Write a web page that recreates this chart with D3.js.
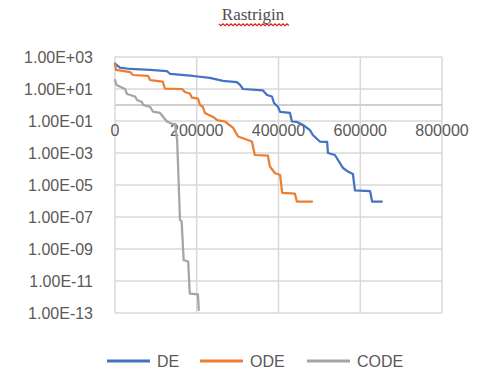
<!DOCTYPE html>
<html>
<head>
<meta charset="utf-8">
<script src="https://cdn.jsdelivr.net/npm/d3@7"></script>
<style>
  html, body { margin: 0; padding: 0; background: #ffffff; }
  svg { display: block; }
</style>
</head>
<body>
<svg id="chart" width="484" height="369"></svg>
<script>
// Rastrigin: best error vs. function evaluations for three DE variants
const title = "Rastrigin";
const seriesNames = ["DE", "ODE", "CODE"];
const seriesColors = ["#4472C4", "#ED7D31", "#A5A5A5"];

const deEvals = [0, 12000, 37000, 86000, 127000, 135000, 191000, 232000, 264000, 298000, 306000, 313000, 362000, 372000, 384000, 389000, 399000, 404000, 428000, 433000, 445000, 460000, 477000, 484000, 501000, 519000, 521000, 538000, 558000, 570000, 582000, 587000, 624000, 629000, 653000];
const deError = [390, 220, 178, 155, 133, 87, 65, 49, 32, 27, 18, 10, 8.1, 4.2, 3.4, 1.33, 0.75, 0.37, 0.32, 0.093, 0.087, 0.056, 0.027, 0.0133, 0.0052, 0.0049, 0.001, 0.00075, 0.000115, 6.9e-5, 4.9e-5, 4.6e-6, 4.2e-6, 9.3e-7, 9.3e-7];

const odeEvals = [0, 2500, 37000, 44000, 81000, 86000, 117000, 122000, 164000, 171000, 183000, 188000, 203000, 208000, 215000, 220000, 240000, 250000, 269000, 289000, 301000, 335000, 342000, 374000, 379000, 391000, 404000, 409000, 440000, 445000, 482000];
const odeError = [365, 155, 115, 75, 65, 36, 29, 10.7, 10, 6.5, 5.2, 2.9, 2.5, 1.0, 0.75, 0.32, 0.18, 0.115, 0.093, 0.037, 0.0108, 0.0052, 0.00075, 0.00069, 0.000144, 5.6e-5, 4.2e-5, 3.2e-6, 2.9e-6, 9.3e-7, 9.3e-7];

const codeEvals = [0, 3700, 24500, 29400, 49000, 54000, 66000, 68500, 86000, 93000, 110000, 117000, 127000, 135000, 139000, 147000, 152000, 159000, 163000, 168000, 179000, 183000, 203000, 205000];
const codeError = [36.5, 17.8, 10, 4.9, 3.4, 2.05, 1.54, 1.0, 0.75, 0.39, 0.32, 0.19, 0.093, 0.075, 0.065, 0.065, 0.0065, 6.5e-8, 5.3e-8, 2.0e-10, 1.65e-10, 1.65e-12, 1.44e-12, 1.55e-13];

const xTicks = [0, 200000, 400000, 600000, 800000];
const xTickLabels = ["0", "200000", "400000", "600000", "800000"];
const yTicks = [1e3, 1e1, 1e-1, 1e-3, 1e-5, 1e-7, 1e-9, 1e-11, 1e-13];
const yTickLabels = ["1.00E+03", "1.00E+01", "1.00E-01", "1.00E-03", "1.00E-05", "1.00E-07", "1.00E-09", "1.00E-11", "1.00E-13"];
const axisCross = 1; // horizontal axis crosses the log axis at 1

const svg = d3.select("#chart");
const plot = { left: 115, right: 442, top: 57, bottom: 313 };
const font = "'Liberation Sans', Arial, sans-serif";
const textColor = "#595959";

const x = d3.scaleLinear().domain([0, 800000]).range([plot.left, plot.right]);
const y = d3.scaleLog().domain([1e-13, 1e3]).range([plot.bottom, plot.top]);

// title with its spell-check underline
svg.append("text")
  .attr("x", 253).attr("y", 20)
  .attr("text-anchor", "middle")
  .attr("font-family", "'Liberation Serif', 'Times New Roman', serif")
  .attr("font-size", 17)
  .attr("fill", "#4d4d4d")
  .text(title);

const squiggle = d3.path();
const sqY = 24;
squiggle.moveTo(219, sqY);
for (let i = 0, px = 219; px < 289; i++) {
  px += 2;
  squiggle.lineTo(px, sqY + (i % 2 === 0 ? 1.6 : -0.2));
}
svg.append("path")
  .attr("d", squiggle.toString())
  .attr("fill", "none")
  .attr("stroke", "#e02020")
  .attr("stroke-width", 1.2);

// gridlines
const grid = svg.append("g");
grid.selectAll("line.h").data(yTicks).join("line")
  .attr("class", "h")
  .attr("x1", plot.left).attr("x2", plot.right)
  .attr("y1", d => y(d)).attr("y2", d => y(d))
  .attr("stroke", "#d9d9d9").attr("stroke-width", 1.5);
grid.selectAll("line.v").data(xTicks).join("line")
  .attr("class", "v")
  .attr("x1", d => x(d)).attr("x2", d => x(d))
  .attr("y1", plot.top).attr("y2", plot.bottom)
  .attr("stroke", "#d9d9d9").attr("stroke-width", 1.5);

// horizontal axis line at the crossing value
svg.append("line")
  .attr("x1", plot.left).attr("x2", plot.right)
  .attr("y1", y(axisCross)).attr("y2", y(axisCross))
  .attr("stroke", "#cfcfcf").attr("stroke-width", 2);

// y tick labels
svg.append("g").selectAll("text").data(yTicks).join("text")
  .attr("x", 93)
  .attr("y", d => y(d))
  .attr("dy", "0.35em")
  .attr("text-anchor", "end")
  .attr("font-family", font).attr("font-size", 16)
  .attr("fill", textColor)
  .text((d, i) => yTickLabels[i]);

// x tick labels sit just below the crossing line
svg.append("g").selectAll("text").data(xTicks).join("text")
  .attr("x", d => x(d))
  .attr("y", y(axisCross) + 31)
  .attr("text-anchor", "middle")
  .attr("font-family", font).attr("font-size", 16)
  .attr("fill", textColor)
  .text((d, i) => xTickLabels[i]);

// series
const series = [
  { evals: deEvals, error: deError },
  { evals: odeEvals, error: odeError },
  { evals: codeEvals, error: codeError }
];
const line = d3.line().x(d => x(d[0])).y(d => y(d[1]));
svg.append("g").selectAll("path").data(series).join("path")
  .attr("d", s => line(s.evals.map((e, i) => [e, s.error[i]])))
  .attr("fill", "none")
  .attr("stroke", (s, i) => seriesColors[i])
  .attr("stroke-width", 2.25)
  .attr("stroke-linejoin", "round")
  .attr("stroke-linecap", "round");

// legend
const legendX = [107, 200, 307];
const legendY = 361;
const legend = svg.append("g").selectAll("g").data(seriesNames).join("g")
  .attr("transform", (d, i) => `translate(${legendX[i]},${legendY})`);
legend.append("line")
  .attr("x1", 0).attr("x2", 43).attr("y1", 0).attr("y2", 0)
  .attr("stroke", (d, i) => seriesColors[i])
  .attr("stroke-width", 3);
legend.append("text")
  .attr("x", 50).attr("y", 0).attr("dy", "0.35em")
  .attr("font-family", font).attr("font-size", 16)
  .attr("fill", textColor)
  .text(d => d);
</script>
</body>
</html>
